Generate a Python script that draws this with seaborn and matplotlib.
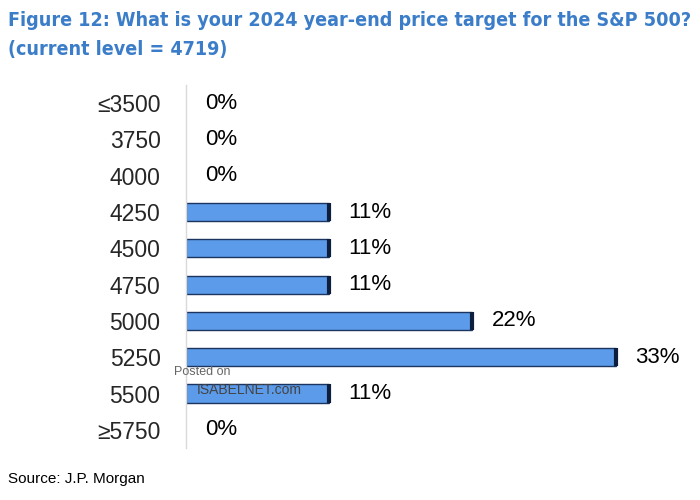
import matplotlib
matplotlib.use("Agg")
import matplotlib.pyplot as plt
import seaborn as sns
import pandas as pd
from matplotlib import font_manager

# survey answers
targets = ["≤3500", "3750", "4000", "4250", "4500", "4750", "5000", "5250", "5500", "≥5750"]
share = [0, 0, 0, 11, 11, 11, 22, 33, 11, 0]

df = pd.DataFrame({"target": targets, "share": share})

sns.set_style("white")
plt.rcParams['font.family'] = ['Liberation Sans', 'DejaVu Sans']

fig = plt.figure(figsize=(7, 5), dpi=100)
ax = fig.add_axes([0.265, 0.104, 0.70, 0.726])

sns.barplot(data=df, x="share", y="target", orient="h", color="#5b9bea",
            edgecolor="#1c3560", linewidth=1.0, width=0.5, saturation=1, ax=ax)
for p in list(ax.patches):
    if p.get_width() == 0:
        p.set_linewidth(0)
    else:
        # dark bevel on the right end of each bar
        xe = p.get_x() + p.get_width()
        ax.plot([xe, xe], [p.get_y(), p.get_y() + p.get_height()],
                color="#0d1f3d", lw=3, solid_capstyle="butt")

for i, v in enumerate(share):
    ax.text(v + 1.5, i, f"{v}%", va="center", ha="left", fontsize=16, color="black")

ax.set_xlim(0, 37.6)
ax.set_ylim(9.5, -0.5)
ax.set_xlabel("")
ax.set_ylabel("")
ax.set_xticks([])
ax.tick_params(axis="y", length=0, pad=18, labelsize=16.5)
for s in ["top", "right", "bottom"]:
    ax.spines[s].set_visible(False)
ax.spines["left"].set_color("#d9d9d9")
ax.spines["left"].set_linewidth(1)

names = {f.name for f in font_manager.fontManager.ttflist}
if "Liberation Sans Narrow" in names:
    tprops = dict(family="Liberation Sans Narrow", fontsize=16.5)
else:
    tprops = dict(family="DejaVu Sans", fontstretch="condensed", fontsize=14.1)

fig.text(0.012, 0.978, "Figure 12: What is your 2024 year-end price target for the S&P 500?\n(current level = 4719)",
         ha="left", va="top", fontweight="bold", color="#3b7dc8",
         linespacing=1.65, **tprops)

fig.text(0.012, 0.042, "Source: J.P. Morgan", ha="left", va="center", fontsize=11, color="black")

# watermark
fig.text(0.248, 0.256, "Posted on", fontsize=9, color="#666666", ha="left", va="center")
fig.text(0.281, 0.219, "ISABELNET.com", fontsize=10, color="#444444", ha="left", va="center")

fig.savefig("out.png", dpi=100)
